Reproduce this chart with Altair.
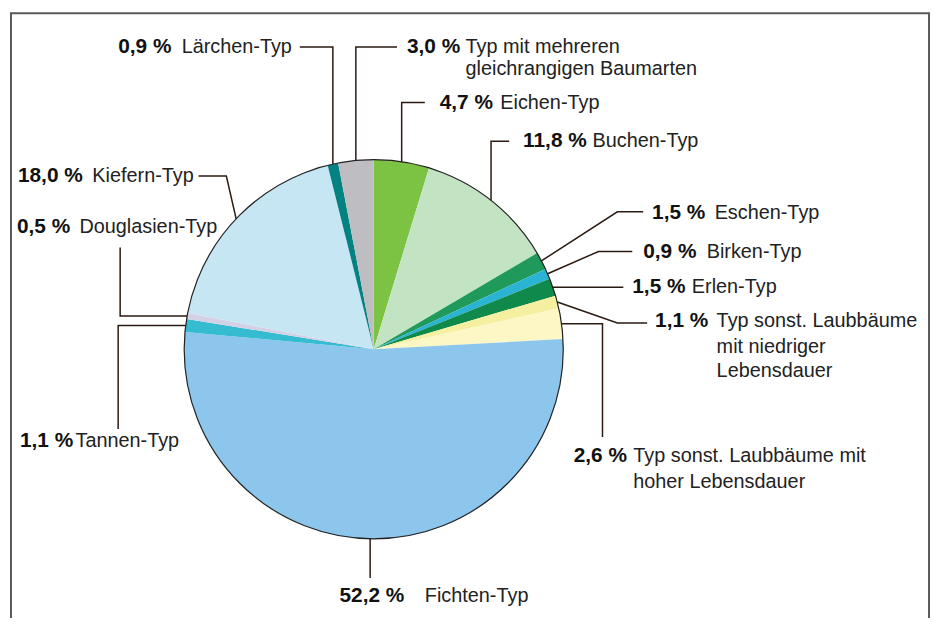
import math
import altair as alt
import pandas as pd

# ---------------- data ----------------
names = [
    "Eichen-Typ", "Buchen-Typ", "Eschen-Typ", "Birken-Typ", "Erlen-Typ",
    "Typ sonst. Laubbäume mit niedriger Lebensdauer",
    "Typ sonst. Laubbäume mit hoher Lebensdauer",
    "Fichten-Typ", "Tannen-Typ", "Douglasien-Typ", "Kiefern-Typ",
    "Lärchen-Typ", "Typ mit mehreren gleichrangigen Baumarten",
]
values = [4.7, 11.8, 1.5, 0.9, 1.5, 1.1, 2.6, 52.2, 1.1, 0.5, 18.0, 0.9, 3.0]
label_lines = [
    ["Eichen-Typ"], ["Buchen-Typ"], ["Eschen-Typ"], ["Birken-Typ"], ["Erlen-Typ"],
    ["Typ sonst. Laubbäume", "mit niedriger", "Lebensdauer"],
    ["Typ sonst. Laubbäume mit", "hoher Lebensdauer"],
    ["Fichten-Typ"], ["Tannen-Typ"], ["Douglasien-Typ"], ["Kiefern-Typ"],
    ["Lärchen-Typ"], ["Typ mit mehreren", "gleichrangigen Baumarten"],
]

# ---------------- styles / layout ----------------
colors = ["#7cc243", "#c3e4c3", "#1f9a5a", "#2bb3d3", "#0f8a4a", "#f5efa0",
          "#fcf7c4", "#8cc6ec", "#36bcd0", "#d4d0e6", "#c6e6f4", "#048282", "#bdbdc2"]
W, H = 929, 610
CX, CY, R = 376.5, 349.5, 191
FONT = "Liberation Sans"
pct_pos = [(443, 101), (527, 140), (657, 212), (648, 252), (637, 287), (660, 321),
           (578, 457), (342, 598), (20, 442), (17, 226), (18, 175), (119, 45), (410, 45)]
name_x = [504, 597, 720, 712, 697, 722, 638, 428, 76, 80, 93, 183, 469]
line_y = [[101], [140], [212], [252], [287], [321, 347, 371], [457, 483], [598],
          [442], [226], [175], [45], [45, 67]]
leaders = [
    [(428, 101), ("px", 101), ("px", "py")],
    [(513, 140), ("px", 140), ("px", "py")],
    [(648, 211), (622, 211), ("px", "py")],
    [(637, 251), (603, 251), ("px", "py")],
    [(628, "py"), ("px", "py")],
    [(652, 323), (622, 323), ("px", "py")],
    [("px", "py"), (607, "py"), (607, 438)],
    [("px", "py"), ("px", 580)],
    [(119, 430), (119, "py"), ("px", "py")],
    [(121, 247), (121, "py"), ("px", "py")],
    [(200, 175), (228, 175), ("px", "py")],
    [(302, 45), ("px", 45), ("px", "py")],
    [(400, 45), ("px", 45), ("px", "py")],
]
LINE_COLOR = "#2a1a12"

# ---------------- tables ----------------
pie_df = pd.DataFrame({"name": names, "value": values, "idx": range(len(names))})

total = sum(values)
cum = 0.0
line_rows, pct_rows, name_rows = [], [], []
for i, (n, v) in enumerate(zip(names, values)):
    mid = (cum + v / 2) / total * 2 * math.pi
    cum += v
    px = CX + R * math.sin(mid)
    py = CY - R * math.cos(mid)
    for k, (a, b) in enumerate(leaders[i]):
        xx = px if a == "px" else a
        yy = py if b == "py" else b
        line_rows.append({"id": n, "ord": k, "x": xx, "y": yy})
    pct_txt = f"{v:.1f} %".replace(".", ",")
    pct_rows.append({"x": pct_pos[i][0], "y": pct_pos[i][1], "t": pct_txt})
    for t, yy in zip(label_lines[i], line_y[i]):
        name_rows.append({"x": name_x[i], "y": yy, "t": t})

lines_df = pd.DataFrame(line_rows)
pct_df = pd.DataFrame(pct_rows)
name_df = pd.DataFrame(name_rows)

xs = alt.Scale(domain=[8, 8 + W], nice=False, zero=False)
ys = alt.Scale(domain=[8 + H, 8], nice=False, zero=False)

frame = alt.Chart(pd.DataFrame({"a": [0]})).mark_rect(
    fillOpacity=0, stroke="#5a5a5a", strokeWidth=2
).encode(
    x=alt.X(datum=11, scale=xs, axis=None),
    x2=alt.datum(936),
    y=alt.Y(datum=11, scale=ys, axis=None),
    y2=alt.datum(700),
)

pie = alt.Chart(pie_df).mark_arc(radius=R).encode(
    theta=alt.Theta("value:Q", stack=True),
    order=alt.Order("idx:Q", sort="ascending"),
    color=alt.Color("name:N", scale=alt.Scale(domain=names, range=colors), legend=None),
    x=alt.value(CX - 8),
    y=alt.value(CY - 8),
)

outline = alt.Chart(pd.DataFrame({"a": [0]})).mark_arc(
    radius=R, theta=0, theta2=2 * math.pi, fillOpacity=0, stroke="#222222", strokeWidth=1.2
).encode(x=alt.value(CX - 8), y=alt.value(CY - 8))

leader = alt.Chart(lines_df).mark_line(color=LINE_COLOR, strokeWidth=1.5).encode(
    x=alt.X("x:Q", scale=xs, axis=None),
    y=alt.Y("y:Q", scale=ys, axis=None),
    detail="id:N",
    order="ord:Q",
)

pct_text = alt.Chart(pct_df).mark_text(
    align="left", baseline="middle", font=FONT, fontSize=21,
    fontWeight="bold", color="#111111"
).encode(
    x=alt.X("x:Q", scale=xs, axis=None),
    y=alt.Y("y:Q", scale=ys, axis=None),
    text="t:N",
)

name_text = alt.Chart(name_df).mark_text(
    align="left", baseline="middle", font=FONT, fontSize=20, color="#222222"
).encode(
    x=alt.X("x:Q", scale=xs, axis=None),
    y=alt.Y("y:Q", scale=ys, axis=None),
    text="t:N",
)

chart = alt.layer(frame, pie, outline, leader, pct_text, name_text).properties(
    width=W, height=H, padding=0,
    autosize=alt.AutoSizeParams(type="none"),
).configure_view(stroke=None)

chart.save("out.html", embed_options={"renderer": "svg", "actions": False})
